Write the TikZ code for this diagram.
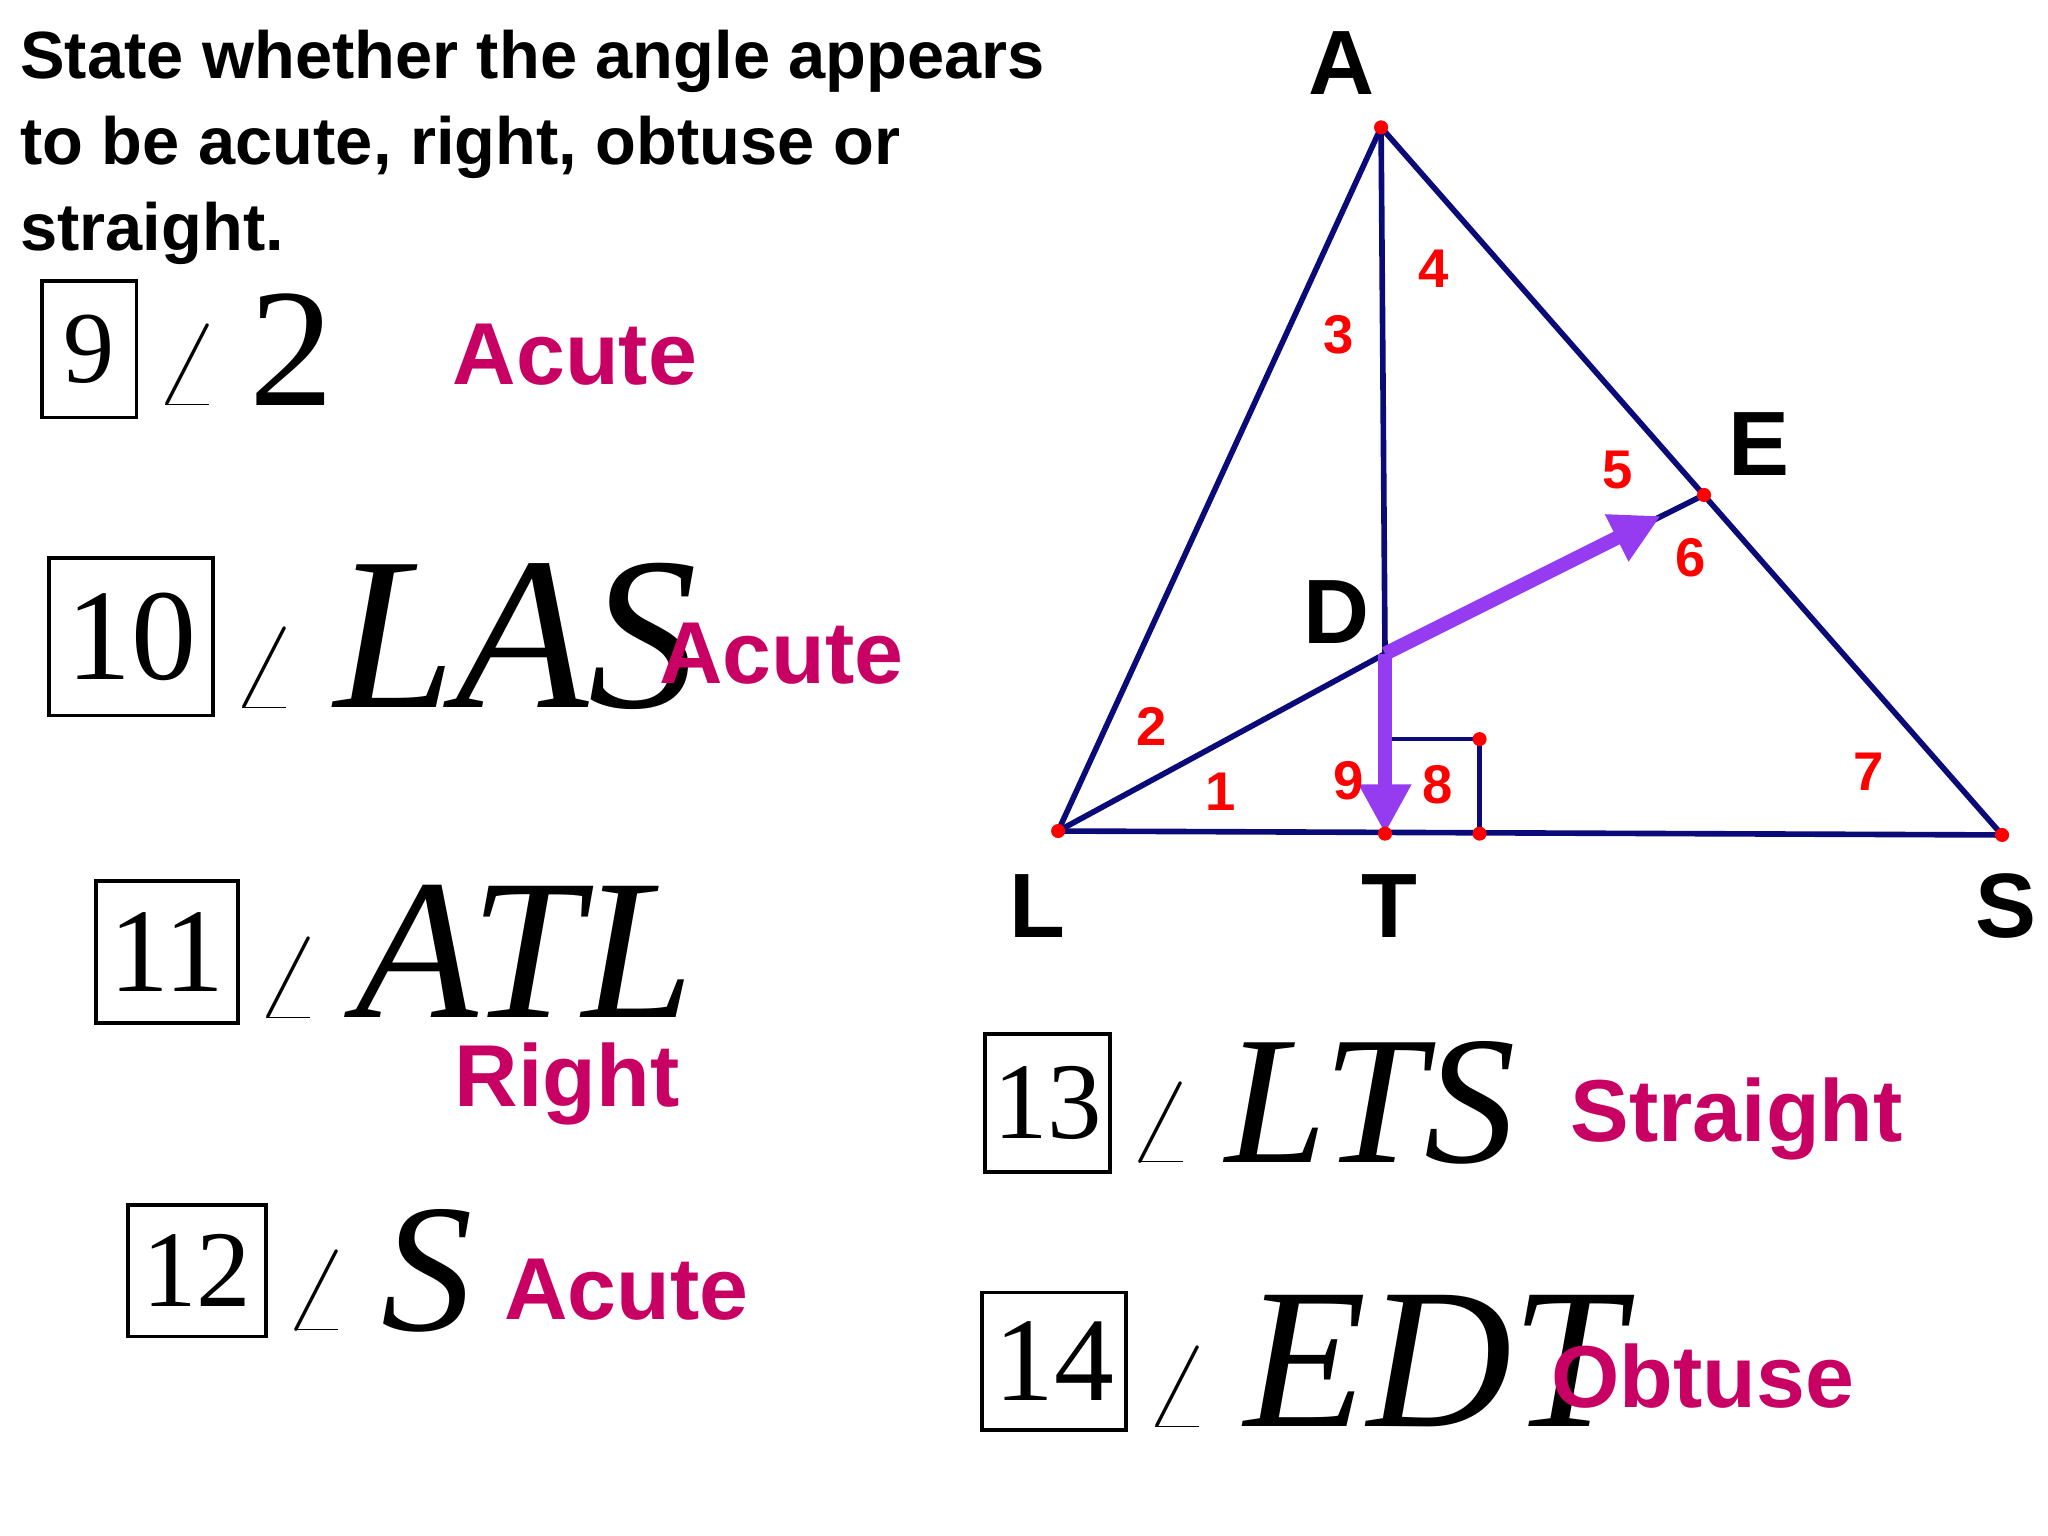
\documentclass[tikz,border=0pt]{standalone}
\usepackage{fontspec}
\setmainfont{Liberation Serif}
\newfontfamily\sansb{Liberation Sans}
\usetikzlibrary{arrows.meta}
\definecolor{navy}{RGB}{10,10,120}
\definecolor{mag}{RGB}{200,0,100}
\definecolor{purp}{RGB}{150,60,240}
\newcommand{\px}[1]{#1*0.013128cm}
\newcommand{\angl}[1]{$\angle$\,\textit{#1}}
\tikzset{
 seg/.style={navy,line width=1.6pt},
 dot/.style={circle,fill=red,inner sep=0pt,minimum size=4pt},
 ptlab/.style={font=\sansb\bfseries\fontsize{26}{28}\selectfont},
 num/.style={red,font=\sansb\bfseries\fontsize{15.5}{17}\selectfont},
 ans/.style={mag,font=\sansb\bfseries\fontsize{25}{28}\selectfont},
 bx/.style={draw,line width=1.1pt,inner sep=0pt},
 mth/.style={anchor=west,inner sep=4pt},
 parr/.style={purp,line width=4pt,-{Triangle[length=14pt,width=14pt]}}
}
\begin{document}
\begin{tikzpicture}[x=0.013128cm,y=-0.013128cm]
\useasboundingbox (0,0) rectangle (1560,1170);
\node[anchor=north west,align=left,inner sep=0pt,font=\sansb\bfseries\fontsize{19}{24.5}\selectfont] (hd) at (15,22) {State whether the angle appears\\to be acute, right, obtuse or\\straight.};
% geometry
\coordinate (A) at (1052,97); \coordinate (L) at (806,633); \coordinate (S) at (1525,636);
\coordinate (T) at (1055,635); \coordinate (E) at (1298,377); \coordinate (D) at (1055,498);
\coordinate (Q1) at (1055,563); \coordinate (Q2) at (1127,563); \coordinate (Q3) at (1127,635);
\coordinate (P) at (1265,393);
\draw[seg] (L)--(A)--(S)--(L);
\draw[seg] (A)--(D);
\draw[seg] (L)--(D)--(E);
\draw[seg,line width=1.3pt] (Q1)--(Q2)--(Q3);
\draw[parr] (D)--(T);
\draw[parr] (D)--(P);
\foreach \p in {A,L,S,T,E,Q2,Q3} \node[dot] at (\p) {};
\node[ptlab] (lA) at (1022,48) {A};
\node[ptlab] (lE) at (1340,338) {E};
\node[ptlab] (lD) at (1018,466) {D};
\node[ptlab] (lL) at (790,690) {L};
\node[ptlab] (lT) at (1058,690) {T};
\node[ptlab] (lS) at (1528,690) {S};
\node[num] at (1020,255) {3}; \node[num] at (1092,205) {4};
\node[num] at (1232,358) {5}; \node[num] at (1288,425) {6};
\node[num] at (877,553) {2}; \node[num] at (930,603) {1};
\node[num] at (1027,595) {9}; \node[num] at (1095,598) {8};
\node[num] at (1423,588) {7};
% items
\node[bx,minimum width={\px{72}},minimum height={\px{104}},font=\fontsize{29}{30}\selectfont] (b9) at (68,266) {9};
\node[mth,font=\fontsize{48}{48}\selectfont] (m9) at (b9.east) {$\angle$\,2};
\node[ans] (a9) at (438,270) {Acute};
\node[bx,minimum width={\px{125}},minimum height={\px{120}},font=\fontsize{37}{38}\selectfont] (b10) at (100,485) {10};
\node[mth,font=\fontsize{62}{62}\selectfont] (m10) at (b10.east) {\angl{LAS}};
\node[ans] (a10) at (595,498) {Acute};
\node[bx,minimum width={\px{108}},minimum height={\px{108}},font=\fontsize{34}{35}\selectfont] (b11) at (127,725) {11};
\node[mth,font=\fontsize{57}{57}\selectfont] (m11) at (b11.east) {\angl{ATL}};
\node[ans] (a11) at (432,826) {Right};
\node[bx,minimum width={\px{105}},minimum height={\px{100}},font=\fontsize{31}{32}\selectfont] (b12) at (150,968) {12};
\node[mth,font=\fontsize{52}{52}\selectfont] (m12) at (b12.east) {\angl{S}};
\node[ans] (a12) at (477,982) {Acute};
\node[bx,minimum width={\px{95}},minimum height={\px{105}},font=\fontsize{31}{32}\selectfont] (b13) at (798,840) {13};
\node[mth,font=\fontsize{52}{52}\selectfont] (m13) at (b13.east) {\angl{LTS}};
\node[ans] (a13) at (1323,852) {Straight};
\node[bx,minimum width={\px{110}},minimum height={\px{105}},font=\fontsize{34}{35}\selectfont] (b14) at (803,1037) {14};
\node[mth,font=\fontsize{57}{57}\selectfont] (m14) at (b14.east) {\angl{EDT}};
\node[ans] (a14) at (1297,1048) {Obtuse};
\end{tikzpicture}
\end{document}
